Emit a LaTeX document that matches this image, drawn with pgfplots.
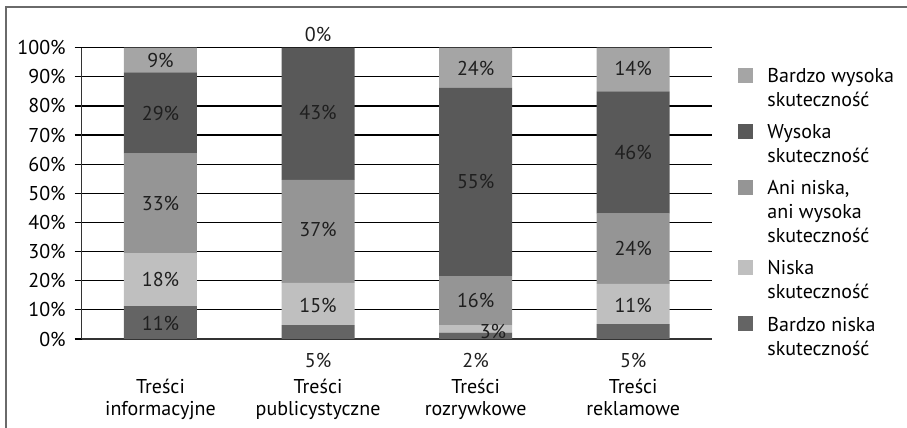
\documentclass[border=0pt]{standalone}
\usepackage{fontspec}
\setmainfont{PT Sans}
\usepackage{pgfplots}
\pgfplotsset{compat=1.18}
\usepackage{pgfplotstable}

\definecolor{cBW}{HTML}{A5A5A5}
\definecolor{cW}{HTML}{595959}
\definecolor{cA}{HTML}{959595}
\definecolor{cN}{HTML}{BFBFBF}
\definecolor{cBN}{HTML}{646464}
\definecolor{frame}{HTML}{6A6A6A}

% segment heights as drawn in the reference
\pgfplotstableread{
x bn n a w bw
0 11.3 18.2 34.1 27.9 8.5
1 4.8 14.5 35.3 45.4 0
2 2.2 2.6 16.8 64.6 13.8
3 5.1 13.8 24.1 42.0 15.0
}\datatable

% printed value labels and their positions
\pgfplotstableread{
x y v
0 5.2 11
0 20.4 18
0 46.5 33
0 77.5 29
0 95.7 9
1 -7.55 5
1 11.5 15
1 37.5 37
1 77.8 43
1 104.4 0
2 -7.55 2
2.11 2.6 3
2 13.2 16
2 54 55
2 93 24
3 -7.55 5
3 11.5 11
3 31.2 24
3 64 46
3 92.7 14
}\labeltable

\pgfplotsset{
  base/.style={
    scale only axis,
    width=315.15pt, height=145.65pt,
    at={(40.85pt,44.5pt)}, anchor=south west,
    xmin=-0.5, xmax=3.5, ymin=0, ymax=100,
  }
}

\begin{document}
\begin{tikzpicture}
\fontsize{10}{12}\selectfont
\begin{axis}[
  base,
  ybar stacked,
  bar width=36.5pt,
  axis lines*=left,
  axis line style={black!80, line width=0.7pt},
  ymajorgrids,
  major grid style={black, line width=0.6pt},
  xtick={0,1,2,3},
  xticklabels={{Treści\\informacyjne},{Treści\\publicystyczne},{Treści\\rozrywkowe},{Treści\\reklamowe}},
  xtick style={draw=none},
  xticklabel style={align=center, font=\fontsize{10}{11}\selectfont, yshift=-13pt},
  ytick={0,10,...,100},
  yticklabel={\pgfmathprintnumber{\tick}\%},
  /pgf/number format/assume math mode=true,
  yticklabel style={font=\fontsize{10}{12}\selectfont, xshift=-1pt},
  tick align=outside,
  major tick length=3.5pt,
  ytick style={black, line width=0.6pt},
  reverse legend,
  legend cell align=left,
  legend image code/.code={\fill[#1] (0pt,-9.45pt) rectangle (7.5pt,-1.95pt);},
  legend style={draw=none, fill=none, at={(1.0413,0.9455)}, anchor=north west,
    inner xsep=0pt, inner ysep=0pt, row sep=3.3pt, column sep=5pt,
    font=\fontsize{10}{12}\selectfont,
    cells={anchor=north west, align=left}},
]
\addplot[fill=cBN, draw=none] table[x=x, y=bn] {\datatable};
\addlegendentry{Bardzo niska\\skuteczność}
\addplot[fill=cN, draw=none] table[x=x, y=n] {\datatable};
\addlegendentry{Niska\\skuteczność}
\addplot[fill=cA, draw=none] table[x=x, y=a] {\datatable};
\addlegendentry{Ani niska,\\ani wysoka\\skuteczność}
\addplot[fill=cW, draw=none] table[x=x, y=w] {\datatable};
\addlegendentry{Wysoka\\skuteczność}
\addplot[fill=cBW, draw=none] table[x=x, y=bw] {\datatable};
\addlegendentry{Bardzo wysoka\\skuteczność}
\end{axis}
\begin{axis}[
  base,
  hide axis,
  clip=false,
  /pgf/number format/assume math mode=true,
]
\addplot[only marks, mark=none, point meta=\thisrow{v},
  nodes near coords={\pgfmathprintnumber[assume math mode=true]{\pgfplotspointmeta}\%},
  nodes near coords style={anchor=center, font=\fontsize{10}{12}\selectfont, text=black!88, inner sep=0pt}]
  table[x=x, y=y] {\labeltable};
\end{axis}
\draw[frame, line width=1pt] (2.75pt,0pt) -- (2.75pt,210.5pt) -- (453.5pt,210.5pt);
\pgfresetboundingbox
\useasboundingbox (0,0) rectangle (453.5pt,214pt);
\end{tikzpicture}
\end{document}
